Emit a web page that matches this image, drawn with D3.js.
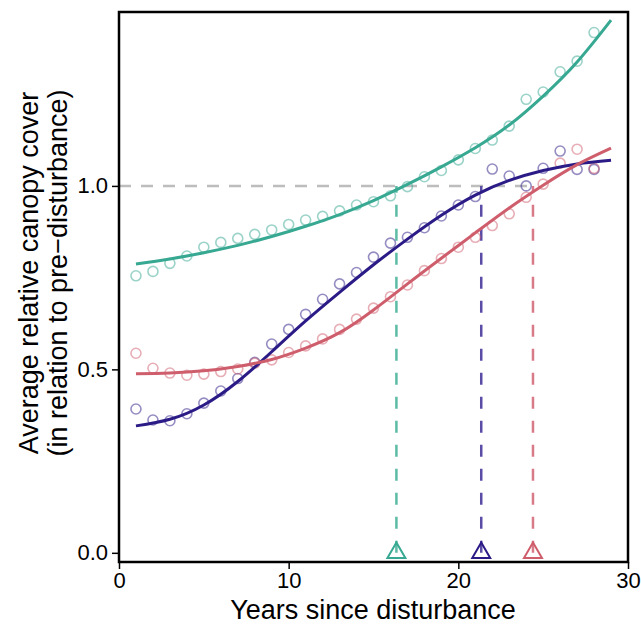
<!DOCTYPE html>
<html>
<head>
<meta charset="utf-8">
<script src="https://cdn.jsdelivr.net/npm/d3@7"></script>
<style>
  body { margin: 0; background: #fff; }
  text { font-family: "Liberation Sans", Arial, sans-serif; fill: #000; }
  .ax text { font-size: 22px; }
  .ax line { stroke: #000; stroke-width: 1.5; }
  .title { font-size: 27px; }
</style>
</head>
<body>
<svg id="chart"></svg>
<script>
// DRAWING AREA
var width = 509;
var height = 550;
var margin = {top: 12, right: 13, bottom: 65, left: 119};

// DATA
var years = [1,2,3,4,5,6,7,8,9,10,11,12,13,14,15,16,17,18,19,20,21,22,23,24,25,26,27,28];
var tealPoints = [0.755,0.767,0.789,0.809,0.833,0.846,0.857,0.868,0.880,0.895,0.907,0.917,0.932,0.948,
                  0.957,0.973,0.998,1.025,1.042,1.071,1.102,1.125,1.163,1.236,1.256,1.311,1.340,1.418];
var purplePoints = [0.392,0.362,0.360,0.379,0.408,0.441,0.475,0.519,0.569,0.609,0.650,0.691,0.733,0.764,
                    0.806,0.844,0.860,0.886,0.918,0.948,0.971,1.046,1.027,1.000,1.048,1.095,1.045,1.045];
var pinkPoints = [0.544,0.503,0.490,0.484,0.487,0.494,0.501,0.517,0.526,0.546,0.564,0.583,0.609,0.637,
                  0.667,0.698,0.730,0.769,0.802,0.833,0.860,0.892,0.924,0.969,1.005,1.062,1.100,1.048];

// fitted curves
var fitYears = [1,3,5,7,9,11,13,15,17,19,21,23,25,27,29];
var tealFit = [0.787,0.801,0.818,0.838,0.862,0.890,0.922,0.960,1.004,1.052,1.104,1.166,1.245,1.338,1.452];
var purpleFit = [0.346,0.364,0.403,0.467,0.548,0.632,0.710,0.785,0.855,0.920,0.975,1.015,1.042,1.060,1.070];
var pinkFit = [0.488,0.490,0.496,0.508,0.527,0.558,0.600,0.662,0.733,0.803,0.872,0.940,1.002,1.058,1.103];

// years at which each curve gets back to pre-disturbance cover
var recoveryYears = [16.35, 21.35, 24.4];

var xTicks = [0,10,20,30];
var yTicks = [0,0.5,1.0];

var lineColors = ["#37a891","#2b1b86","#cf5e6d"];
var dashColors = ["#5cbca6","#5b4ca5","#d97a89"];

var svg = d3.select("#chart")
  .attr("width", 641)
  .attr("height", 627);

var g = svg.append("g")
  .attr("transform", "translate(" + margin.left + "," + margin.top + ")");

var x = d3.scaleLinear().domain([0,30]).range([0, width]);
var y = d3.scaleLinear().domain([-0.025, 1.474]).range([height, 0]);

// AXES
g.append("g")
  .attr("class","ax")
  .attr("transform", "translate(0," + height + ")")
  .call(d3.axisBottom(x).tickValues(xTicks).tickSize(7).tickPadding(3).tickFormat(d3.format("d")))
  .call(function(s) { s.select(".domain").remove(); });

g.append("g")
  .attr("class","ax")
  .call(d3.axisLeft(y).tickValues(yTicks).tickSize(7).tickPadding(4).tickFormat(d3.format(".1f")))
  .call(function(s) { s.select(".domain").remove(); });

// reference line at 1.0
g.append("line")
  .attr("x1", x(0))
  .attr("x2", x(recoveryYears[2]))
  .attr("y1", y(1))
  .attr("y2", y(1))
  .style("stroke", "#bdbdbd")
  .style("stroke-width", 2.5)
  .style("stroke-dasharray", "12,10");

// vertical dashed lines
recoveryYears.forEach(function(v, i) {
  g.append("line")
    .attr("x1", x(v)).attr("x2", x(v))
    .attr("y1", y(0)).attr("y2", y(1))
    .style("stroke", dashColors[i])
    .style("stroke-width", 2.5)
    .style("stroke-dasharray", "12,12");
});

var pointSets = [tealPoints, purplePoints, pinkPoints];
var fitSets = [tealFit, purpleFit, pinkFit];

// POINTS
pointSets.forEach(function(vals, i) {
  g.append("g").selectAll("circle")
    .data(vals)
    .enter()
    .append("circle")
    .attr("cx", function(d, j) { return x(years[j]); })
    .attr("cy", function(d) { return y(d); })
    .attr("r", 5)
    .style("fill", "none")
    .style("stroke", lineColors[i])
    .style("stroke-opacity", 0.5)
    .style("stroke-width", 1.6);
});

// FITTED CURVES
var line = d3.line()
  .curve(d3.curveNatural)
  .x(function(d, j) { return x(fitYears[j]); })
  .y(function(d) { return y(d); });

fitSets.forEach(function(vals, i) {
  g.append("path")
    .attr("d", line(vals))
    .style("fill", "none")
    .style("stroke", lineColors[i])
    .style("stroke-width", 3);
});

// TRIANGLES
recoveryYears.forEach(function(v, i) {
  g.append("path")
    .attr("d", d3.symbol().type(d3.symbolTriangle).size(140)())
    .attr("transform", "translate(" + x(v) + "," + y(0) + ")")
    .style("fill", "none")
    .style("stroke", lineColors[i])
    .style("stroke-width", 2);
});

// FRAME
g.append("rect")
  .attr("x", 0).attr("y", 0)
  .attr("width", width).attr("height", height)
  .style("fill", "none")
  .style("stroke", "#000")
  .style("stroke-width", 2.5);

// TITLES
svg.append("text")
  .attr("class","title")
  .attr("x", 373)
  .attr("y", 619)
  .style("text-anchor","middle")
  .text("Years since disturbance");

svg.append("text")
  .attr("class","title")
  .attr("transform", "translate(38,273) rotate(-90)")
  .style("text-anchor","middle")
  .text("Average relative canopy cover");

svg.append("text")
  .attr("class","title")
  .attr("transform", "translate(67,273) rotate(-90)")
  .style("text-anchor","middle")
  .text("(in relation to pre\u2212disturbance)");
</script>
</body>
</html>
